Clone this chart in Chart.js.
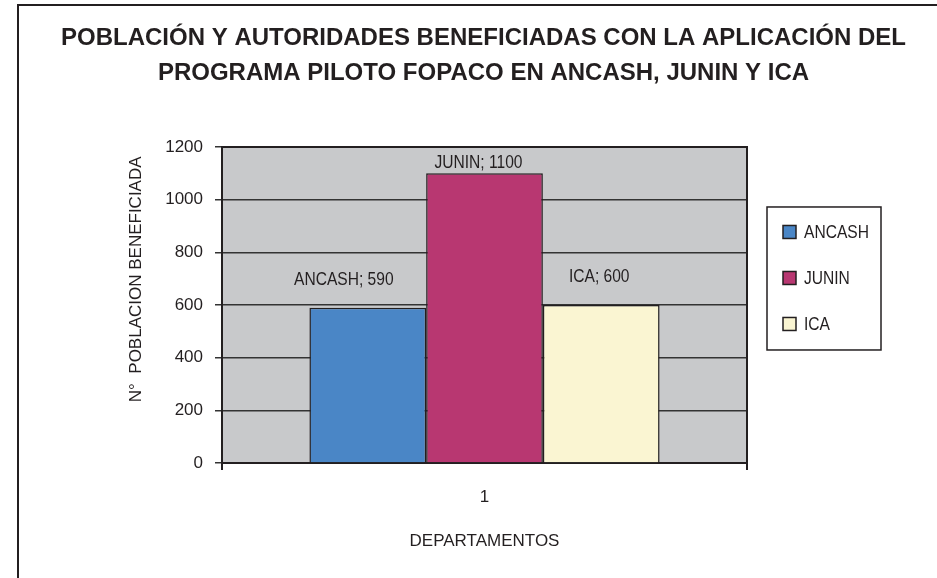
<!DOCTYPE html>
<html>
<head>
<meta charset="utf-8">
<script src="https://cdn.jsdelivr.net/npm/chart.js@4/dist/chart.umd.min.js"></script>
<style>
  html, body { margin: 0; padding: 0; background: #fff; overflow: hidden; }
  #wrap { position: relative; width: 937px; height: 578px; }
  #frame { position: absolute; left: 17px; top: 4px; right: -10px; bottom: -10px;
           border-left: 2.5px solid #231f20; border-top: 2.5px solid #231f20; }
  canvas { position: absolute; left: 0; top: 0; }
</style>
</head>
<body>
<div id="wrap">
  <div id="frame"></div>
  <canvas id="chart" width="937" height="578"></canvas>
</div>
<script>
const categories = ["1"];
const departamentos = ["ANCASH", "JUNIN", "ICA"];
const poblacion = [590, 1100, 600];
const barColors = ["#4a86c6", "#b83771", "#faf5d2"];
const yTicks = [0, 200, 400, 600, 800, 1000, 1200];

// label nudges (px) relative to top-centre of each bar, like the Excel placement
const labelNudge = [[-24, -28], [-6, -11], [-2, -28]];

const SANS = "'Liberation Sans', Arial, sans-serif";
const INK = "#231f20";

// no narrow font installed, so squeeze the text we draw ourselves
function narrowText(ctx, text, x, y, align) {
  const sx = 0.82;
  const w = ctx.measureText(text).width * sx;
  let left = x;
  if (align === "center") left = x - w / 2;
  ctx.save();
  ctx.textAlign = "left";
  ctx.translate(left, y);
  ctx.scale(sx, 1);
  ctx.fillText(text, 0, 0);
  ctx.restore();
}

// grey plot background + border on the right
const plotFrame = {
  id: "plotFrame",
  beforeDraw(chart) {
    const { ctx, chartArea: a } = chart;
    ctx.save();
    ctx.fillStyle = "#c8c9cb";
    ctx.fillRect(a.left, a.top, a.right - a.left, a.bottom - a.top);
    ctx.restore();
  },
  afterDraw(chart) {
    const { ctx, chartArea: a } = chart;
    ctx.save();
    ctx.strokeStyle = INK;
    ctx.lineWidth = 2;
    ctx.beginPath();
    ctx.moveTo(a.left, a.top);
    ctx.lineTo(a.right, a.top);
    ctx.lineTo(a.right, a.bottom + 7);
    ctx.stroke();
    ctx.restore();
  }
};

// "NAME; value" labels above the bars
const barLabels = {
  id: "barLabels",
  afterDatasetsDraw(chart) {
    const { ctx } = chart;
    ctx.save();
    ctx.font = "19px " + SANS;
    ctx.fillStyle = INK;
    ctx.textBaseline = "middle";
    chart.data.datasets.forEach((ds, i) => {
      const bar = chart.getDatasetMeta(i).data[0];
      const [dx, dy] = labelNudge[i];
      narrowText(ctx, ds.label + "; " + ds.data[0], bar.x + dx, bar.y + dy, "center");
    });
    ctx.restore();
  }
};

// boxed legend to the right of the plot
const boxLegend = {
  id: "boxLegend",
  afterDraw(chart) {
    const { ctx, chartArea: a } = chart;
    const x = a.right + 20, y = a.top + 60, w = 114, h = 143;
    ctx.save();
    ctx.fillStyle = "#fff";
    ctx.fillRect(x, y, w, h);
    ctx.strokeStyle = INK;
    ctx.lineWidth = 1.5;
    ctx.strokeRect(x, y, w, h);
    ctx.font = "19px " + SANS;
    ctx.textBaseline = "middle";
    chart.data.datasets.forEach((ds, i) => {
      const cy = y + 25 + i * 46;
      ctx.fillStyle = ds.backgroundColor;
      ctx.fillRect(x + 16, cy - 6.5, 13, 13);
      ctx.strokeStyle = INK;
      ctx.lineWidth = 1.5;
      ctx.strokeRect(x + 16, cy - 6.5, 13, 13);
      ctx.fillStyle = INK;
      narrowText(ctx, ds.label, x + 37, cy + 1, "left");
    });
    ctx.restore();
  }
};

new Chart(document.getElementById("chart"), {
  type: "bar",
  data: {
    labels: categories,
    datasets: departamentos.map((name, i) => ({
      label: name,
      data: [poblacion[i]],
      backgroundColor: barColors[i],
      borderColor: INK,
      borderWidth: 1.5,
      categoryPercentage: 0.667,
      barPercentage: 1
    }))
  },
  options: {
    responsive: false,
    animation: false,
    layout: { padding: { left: 30, right: 0, top: 0, bottom: 0 } },
    plugins: {
      legend: { display: false },
      tooltip: { enabled: false },
      title: {
        display: true,
        text: [
          "POBLACIÓN Y AUTORIDADES BENEFICIADAS CON LA APLICACIÓN DEL",
          "PROGRAMA PILOTO FOPACO EN ANCASH, JUNIN Y ICA"
        ],
        color: INK,
        font: { family: SANS, size: 24, weight: "bold", lineHeight: 1.458 },
        padding: { top: 20.5, bottom: 56.5 }
      }
    },
    scales: {
      x: {
        offset: true,
        grid: { offset: true, drawOnChartArea: false, drawTicks: true, tickLength: 7, color: INK, lineWidth: 2 },
        border: { display: true, color: INK, width: 2 },
        ticks: { color: INK, padding: 17, font: { family: SANS, size: 17 } },
        title: {
          display: true,
          text: "DEPARTAMENTOS",
          color: INK,
          font: { family: SANS, size: 17 },
          padding: { top: 0, bottom: 26 }
        },
        afterFit: (s) => { s.height = 115; }
      },
      y: {
        min: 0,
        max: 1200,
        afterBuildTicks: (s) => { s.ticks = yTicks.map((v) => ({ value: v })); },
        grid: { color: "#333", lineWidth: 1.5, tickLength: 7 },
        border: { display: true, color: INK, width: 2 },
        ticks: { color: INK, padding: 12, font: { family: SANS, size: 17 }, callback: (v) => String(v) },
        title: {
          display: true,
          align: "end",
          text: "N°  POBLACION BENEFICIADA  ",
          color: INK,
          font: { family: SANS, size: 17 },
          padding: { top: 96, bottom: 0 }
        },
        afterFit: (s) => { s.width = 192; }
      },
      spacer: {
        type: "linear",
        position: "right",
        display: true,
        grid: { display: false },
        border: { display: false },
        ticks: { display: false },
        afterFit: (s) => { s.width = 190; }
      }
    }
  },
  plugins: [plotFrame, barLabels, boxLegend]
});
</script>
</body>
</html>
